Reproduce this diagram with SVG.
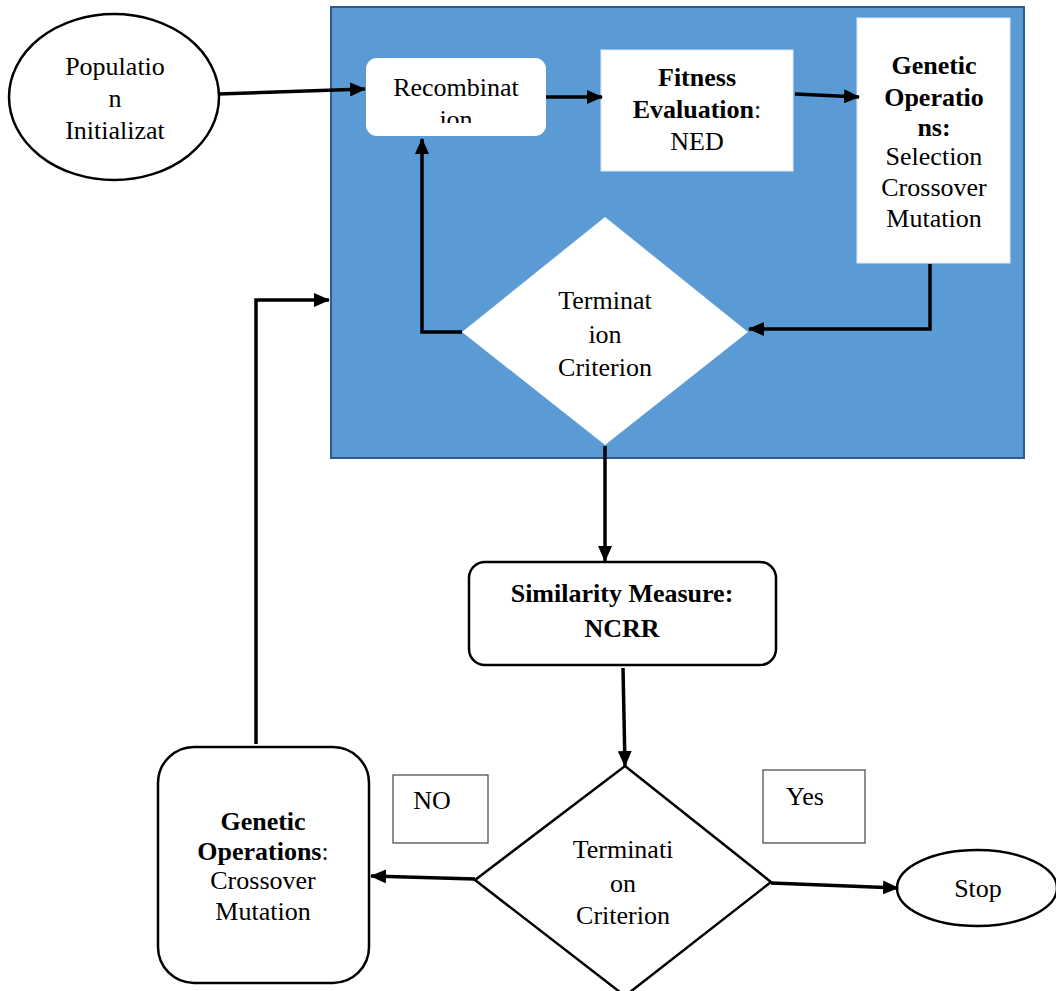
<svg xmlns="http://www.w3.org/2000/svg" width="1056" height="991" viewBox="0 0 1056 991">
<style>
text{font-family:"Liberation Serif","Times New Roman",serif;font-size:26px;fill:#000;text-anchor:middle}
.b{font-weight:bold}
.st{fill:#fff;stroke:#000;stroke-width:2.5}
.wb{fill:#fff;stroke:#dfe9f5;stroke-width:1}
.lbl{fill:#fff;stroke:#444;stroke-width:1.2}
.c{fill:none;stroke:#000;stroke-width:3.5;marker-end:url(#ah)}
.cn{fill:none;stroke:#000;stroke-width:3.5}
</style>
<defs>
<marker id="ah" markerUnits="userSpaceOnUse" markerWidth="16" markerHeight="14" refX="15" refY="7" orient="auto">
<path d="M0,0 L16,7 L0,14 z" fill="#000"/>
</marker>
<clipPath id="recClip"><rect x="366" y="58" width="180" height="65"/></clipPath>
</defs>
<g id="container">
<rect x="331" y="7" width="693" height="451" fill="#5B9BD5" stroke="#2F5B8C" stroke-width="2"/>
</g>
<g id="population">
<ellipse cx="114" cy="97" rx="105" ry="83" class="st"/>
<text x="115" y="75">Populatio</text>
<text x="115" y="107">n</text>
<text x="115" y="139">Initializat</text>
</g>
<g id="recombination">
<rect x="366" y="58" width="180" height="78" rx="11" fill="#fff"/>
<g clip-path="url(#recClip)">
<text x="456" y="96">Recombinat</text>
<text x="456" y="128">ion</text>
</g>
</g>
<g id="fitness">
<rect x="601" y="50" width="192" height="121" class="wb"/>
<text x="697" y="86" class="b">Fitness</text>
<text x="697" y="118"><tspan class="b">Evaluation</tspan>:</text>
<text x="697" y="150">NED</text>
</g>
<g id="genetic-top">
<rect x="857" y="18" width="153" height="245" class="wb"/>
<text x="934" y="74" class="b">Genetic</text>
<text x="934" y="106" class="b">Operatio</text>
<text x="934" y="136" class="b">ns:</text>
<text x="934" y="165">Selection</text>
<text x="934" y="196">Crossover</text>
<text x="934" y="227">Mutation</text>
</g>
<g id="termination-top">
<polygon points="605,217 748,332 605,445 462,332" fill="#fff"/>
<text x="605" y="309">Terminat</text>
<text x="605" y="343">ion</text>
<text x="605" y="376">Criterion</text>
</g>
<g id="similarity">
<rect x="469" y="562" width="307" height="103" rx="16" class="st"/>
<text x="622" y="602" class="b">Similarity Measure:</text>
<text x="622" y="637" class="b">NCRR</text>
</g>
<g id="termination-bottom">
<polygon points="625,766 771,882 625,996 475,880" class="st"/>
<text x="623" y="858">Terminati</text>
<text x="623" y="892">on</text>
<text x="623" y="924">Criterion</text>
</g>
<g id="genetic-bottom">
<rect x="158" y="747" width="211" height="236" rx="36" class="st"/>
<text x="263" y="830" class="b">Genetic</text>
<text x="263" y="860"><tspan class="b">Operations</tspan>:</text>
<text x="263" y="889">Crossover</text>
<text x="263" y="920">Mutation</text>
</g>
<g id="no-label">
<rect x="393" y="775" width="95" height="68" class="lbl"/>
<text x="432" y="809">NO</text>
</g>
<g id="yes-label">
<rect x="763" y="770" width="102" height="73" class="lbl"/>
<text x="805" y="805">Yes</text>
</g>
<g id="stop">
<ellipse cx="977" cy="888" rx="80" ry="38" class="st"/>
<text x="978" y="897">Stop</text>
</g>
<g id="connectors">
<path class="c" d="M218,94 L365,89"/>
<path class="c" d="M546,97 L602,97"/>
<path class="c" d="M795,94 L859,97"/>
<path class="c" d="M930,264 L930,329 L749,329"/>
<path class="c" d="M462,332 L422,332 L422,139"/>
<path class="c" d="M605,446 L605,561"/>
<path class="c" d="M623,668 L625,766"/>
<path class="c" d="M475,879 L371,876"/>
<path class="c" d="M256,744 L256,300 L329,300"/>
<path class="c" d="M771,883 L898,888"/>
</g>
</svg>
